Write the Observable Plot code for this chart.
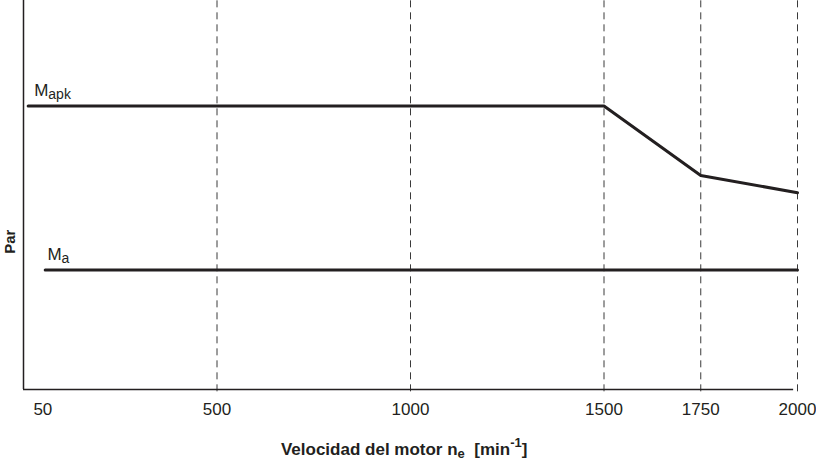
<!DOCTYPE html>
<html>
<head>
<meta charset="utf-8">
<script src="https://cdn.jsdelivr.net/npm/d3@7"></script>
<script src="https://cdn.jsdelivr.net/npm/@observablehq/plot@0.6"></script>
<style>
  html, body { margin: 0; padding: 0; background: #fff; }
  #chart { width: 816px; height: 462px; }
</style>
</head>
<body>
<div id="chart"></div>
<script>
// Data
const xTicks = [50, 500, 1000, 1500, 1750, 2000];
const gridRpm = [500, 1000, 1500, 1750, 2000];
const mapkRpm = [12, 1500, 1750, 2000];
const mapkPar = [72.9, 72.9, 55.0, 50.6];
const maRpm = [56, 2000];
const maPar = [30.7, 30.7];
const curveLabels = [
  {name: "M", sub: "apk", rpm: 28, par: 72.9},
  {name: "M", sub: "a", rpm: 62, par: 30.7}
];
const yTitle = "Par";

const mapk = mapkRpm.map((r, i) => ({rpm: r, par: mapkPar[i]}));
const ma = maRpm.map((r, i) => ({rpm: r, par: maPar[i]}));

const ink = "#231f20";
const font = "'Liberation Sans', Arial, Helvetica, sans-serif";

const plot = Plot.plot({
  width: 816,
  height: 462,
  marginTop: 0,
  marginBottom: 73,
  marginLeft: 23,
  marginRight: 19,
  style: {fontFamily: font, fontSize: "16px", color: ink, background: "#fff"},
  x: {domain: [0, 2000], axis: null},
  y: {domain: [0, 100], axis: null},
  marks: [
    Plot.ruleX(gridRpm, {y1: -0.6, y2: 100, stroke: "#3a3a3a", strokeWidth: 1, strokeDasharray: "7,5"}),
    Plot.ruleY([0], {x1: 0, x2: 1990, stroke: ink, strokeWidth: 1.5}),
    Plot.ruleX([0], {y1: 0, y2: 100, stroke: ink, strokeWidth: 1.5}),
    Plot.line(mapk, {x: "rpm", y: "par", stroke: ink, strokeWidth: 3}),
    Plot.line(ma, {x: "rpm", y: "par", stroke: ink, strokeWidth: 3}),
    Plot.text(xTicks, {x: d => d, y: 0, text: d => String(d), dy: 20, fontSize: 17, fill: ink, lineAnchor: "middle"}),
    Plot.text(curveLabels, {x: "rpm", y: "par", text: "name", textAnchor: "start", lineAnchor: "bottom", dy: -10, fontSize: 17, fill: ink}),
    Plot.text(curveLabels, {x: "rpm", y: "par", text: "sub", textAnchor: "start", lineAnchor: "bottom", dx: 14, dy: -7, fontSize: 14, fill: ink}),
    Plot.text([yTitle], {x: 0, y: 38, text: d => d, rotate: -90, dx: -13, fontSize: 15, fontWeight: "bold", fill: ink})
  ]
});

document.getElementById("chart").appendChild(plot);

// X axis title with subscript and superscript
const sx = plot.scale("x");
const svg = d3.select(plot);
const t = svg.append("text")
  .attr("x", sx.apply(985))
  .attr("y", 455)
  .attr("text-anchor", "middle")
  .attr("font-family", font)
  .attr("font-weight", "bold")
  .attr("font-size", 17)
  .attr("fill", ink);
t.append("tspan").text("Velocidad del motor n");
t.append("tspan").attr("font-size", 13).attr("dy", 3).text("e");
t.append("tspan").attr("dy", -3).text("\u00a0 [min");
t.append("tspan").attr("font-size", 13).attr("dy", -8).text("-1");
t.append("tspan").attr("dy", 8).text("]");
</script>
</body>
</html>
